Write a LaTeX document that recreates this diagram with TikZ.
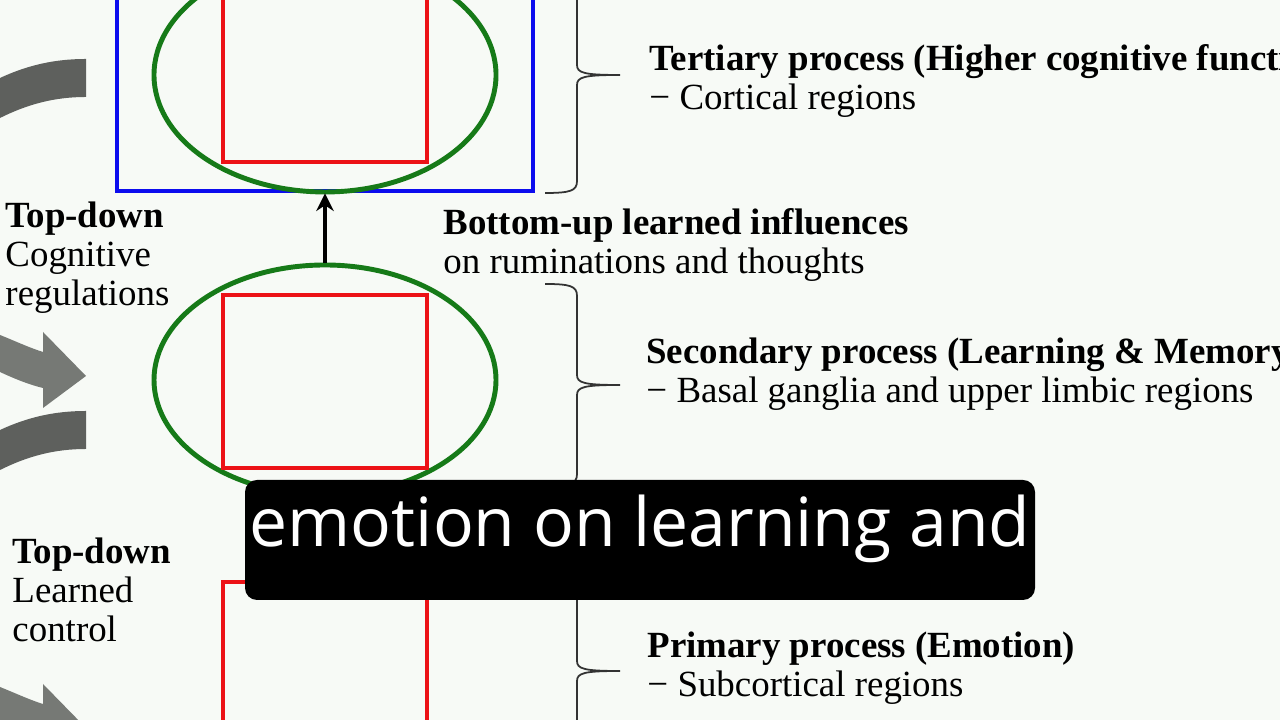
\documentclass[tikz,border=0pt]{standalone}
\usepackage{fontspec}
\setmainfont{Liberation Serif}
\newfontfamily\subfont{Open Sans}
\usetikzlibrary{shapes, arrows.meta, positioning}
\definecolor{bgwhite}{RGB}{247,250,246}
\definecolor{frameblue}{RGB}{12,12,238}
\definecolor{ringgreen}{RGB}{22,122,24}
\definecolor{corered}{RGB}{236,18,22}
\definecolor{banddark}{RGB}{94,96,93}
\definecolor{arrowgray}{RGB}{118,121,117}

\begin{document}
\begin{tikzpicture}[>={Stealth[length=5pt,width=5pt]}, line width=1.4pt,
    regionbox/.style={draw=frameblue, rectangle, minimum width=4.16cm, minimum height=2.36cm},
    ring/.style={draw=ringgreen, ellipse, minimum width=3.42cm, minimum height=2.34cm},
    core/.style={draw=corered, rectangle, line width=1.3pt, minimum width=2.04cm, minimum height=1.73cm},
    lbl/.style={anchor=west, align=left, inner sep=0pt, font=\fontsize{10.5}{11.1}\selectfont}]
    \useasboundingbox (0,0) rectangle (12.8,7.2);
    \clip (0,0) rectangle (12.8,7.2);
    \fill[bgwhite] (0,0) rectangle (12.8,7.2);

    % 左侧灰色箭头
    \foreach \s in {0,3.52} {
        \fill[banddark, yshift=-\s cm] (0,6.42) .. controls (0.28,6.55) and (0.55,6.61) .. (0.86,6.61)
            -- (0.86,6.23) .. controls (0.55,6.23) and (0.28,6.16) .. (0,6.02) -- cycle;
        \fill[arrowgray, yshift=-\s cm] (0,3.85) .. controls (0.15,3.79) and (0.3,3.72) .. (0.43,3.68)
            -- (0.43,3.88) -- (0.86,3.44) -- (0.43,3.12) -- (0.43,3.32)
            .. controls (0.3,3.35) and (0.15,3.41) .. (0,3.48) -- cycle;
    }

    % 三级
    \node[regionbox] (frame3) at (3.25,6.47) {};
    \node[ring] (ring3) at (3.25,6.45) {};
    \node[core] (core3) at (3.25,6.445) {};

    % 二级
    \node[ring, minimum height=2.3cm] (ring2) at (3.25,3.40) {};
    \node[core] (core2) at (3.25,3.385) {};

    % 一级
    \node[core] (core1) at (3.25,0.515) {};

    \draw[->, line width=0.9pt] (ring2) -- (frame3);

    % 文字
    \node[lbl] (tert) at (6.47,6.39) {\textbf{Tertiary process (Higher cognitive functions)}\\− Cortical regions};
    \node[lbl] (bup) at (4.41,4.745) {\textbf{Bottom-up learned influences}\\on ruminations and thoughts};
    \node[lbl] (sec) at (6.44,3.46) {\textbf{Secondary process (Learning \& Memory)}\\− Basal ganglia and upper limbic regions};
    \node[lbl] (prim) at (6.45,0.515) {\textbf{Primary process (Emotion)}\\− Subcortical regions};
    \node[lbl] (tdcog) at (0.03,4.62) {\textbf{Top-down}\\Cognitive\\regulations};
    \node[lbl] (tdlrn) at (0.10,1.30) {\textbf{Top-down}\\Learned\\control};

    % 括号
    \foreach \yt/\ym/\yb in {7.63/6.45/5.27, 4.36/3.35/2.34, 1.50/0.49/-0.52}
        \draw[line width=0.5pt, black!80] (5.45,\yt) .. controls (5.70,\yt) and (5.77,\yt-0.02) .. (5.77,\yt-0.12)
            -- (5.77,\ym+0.10) .. controls (5.77,\ym+0.02) and (5.84,\ym) .. (6.20,\ym)
            .. controls (5.84,\ym) and (5.77,\ym-0.02) .. (5.77,\ym-0.10)
            -- (5.77,\yb+0.12) .. controls (5.77,\yb+0.02) and (5.70,\yb) .. (5.45,\yb);

    % 字幕
    \node[fill=black, rounded corners=0.12cm, minimum width=7.9cm, minimum height=1.2cm, inner sep=0pt] (subbox) at (6.40,1.80) {};
    \node[anchor=base, text=white, inner sep=0pt, font=\subfont\fontsize{19.3}{23}\selectfont] (subtxt) at ([yshift=-0.07cm]subbox.center) {emotion on learning and};
\end{tikzpicture}
\end{document}
